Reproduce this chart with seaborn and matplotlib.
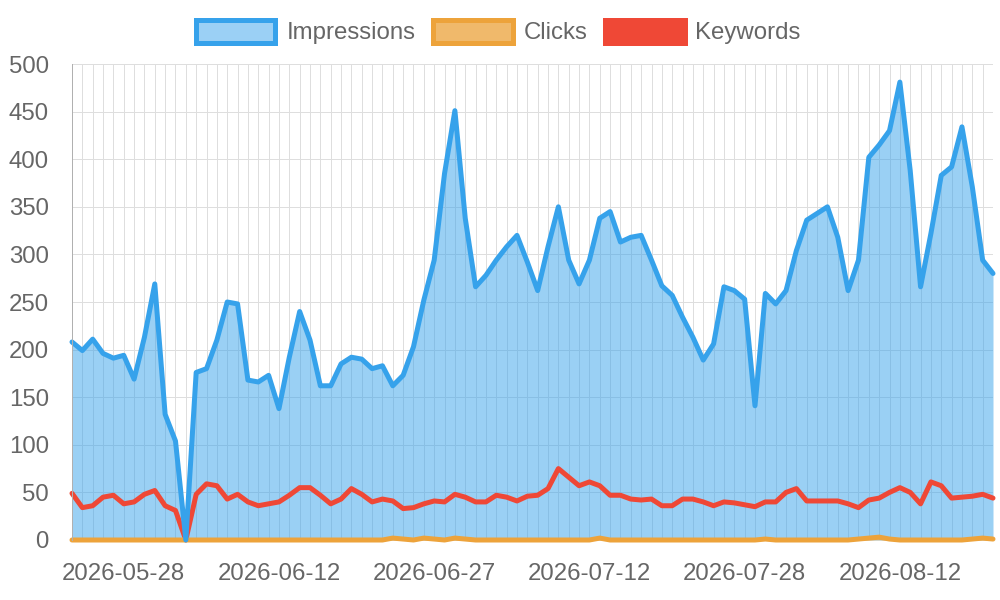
"""Daily search performance: impressions, clicks and keywords"""
import matplotlib
matplotlib.use("Agg")
import matplotlib.pyplot as plt
import pandas as pd
import seaborn as sns
from matplotlib.patches import Patch

# one day (2026-07-20) is absent from the export
dates = (
    pd.date_range("2026-05-23", "2026-08-21")
    .drop(pd.Timestamp("2026-07-20"))
    .strftime("%Y-%m-%d")
    .tolist()
)

impressions = [
    208, 199, 211, 196, 191, 194, 169, 213, 269, 132,
    104, 0, 176, 180, 210, 250, 248, 168, 166, 173,
    138, 192, 240, 210, 162, 162, 185, 192, 190, 180,
    183, 162, 173, 203, 252, 294, 385, 451, 338, 266,
    278, 294, 308, 320, 292, 262, 308, 350, 294, 269,
    294, 338, 345, 313, 318, 320, 294, 267, 257, 234,
    213, 189, 206, 266, 262, 253, 141, 259, 248, 262,
    304, 336, 343, 350, 318, 262, 294, 402, 415, 430,
    481, 388, 266, 322, 383, 392, 434, 371, 294, 280,
]
clicks = [
    0, 0, 0, 0, 0, 0, 0, 0, 0, 0,
    0, 0, 0, 0, 0, 0, 0, 0, 0, 0,
    0, 0, 0, 0, 0, 0, 0, 0, 0, 0,
    0, 2, 1, 0, 2, 1, 0, 2, 1, 0,
    0, 0, 0, 0, 0, 0, 0, 0, 0, 0,
    0, 2, 0, 0, 0, 0, 0, 0, 0, 0,
    0, 0, 0, 0, 0, 0, 0, 1, 0, 0,
    0, 0, 0, 0, 0, 0, 1, 2, 3, 1,
    0, 0, 0, 0, 0, 0, 0, 1, 2, 1,
]
keywords = [
    49, 34, 36, 45, 47, 38, 40, 48, 52, 36,
    31, 0, 48, 59, 57, 43, 48, 40, 36, 38,
    40, 47, 55, 55, 47, 38, 43, 54, 48, 40,
    43, 41, 33, 34, 38, 41, 40, 48, 45, 40,
    40, 47, 45, 41, 46, 47, 54, 75, 66, 57,
    61, 57, 47, 47, 43, 42, 43, 36, 36, 43,
    43, 40, 36, 40, 39, 37, 35, 40, 40, 50,
    54, 41, 41, 41, 41, 38, 34, 42, 44, 50,
    55, 50, 38, 61, 57, 44, 45, 46, 48, 44,
]

colors = {"Impressions": "#36A2EB", "Clicks": "#EDA33B", "Keywords": "#EF4836"}
fills = {"Impressions": "#9BD0F5", "Clicks": "#F0B96B", "Keywords": "#EF4836"}

df = pd.DataFrame({"date": dates, "Impressions": impressions,
                   "Clicks": clicks, "Keywords": keywords})
df["pos"] = range(len(df))
long = df.melt(id_vars=["date", "pos"], var_name="series", value_name="value")

sns.set_theme(style="white")
plt.rcParams["font.family"] = ["Liberation Sans", "DejaVu Sans"]

PX = 0.72  # one pixel in points at 100 dpi

fig = plt.figure(figsize=(10, 6), dpi=100)
ax = fig.add_axes([0.072, 0.1, 0.921, 0.7933])

# filled areas first, lines on top (Impressions drawn last)
ax.fill_between(df["pos"], df["Impressions"], color=colors["Impressions"],
                alpha=0.5, lw=0, zorder=1)
ax.fill_between(df["pos"], df["Clicks"], color=colors["Clicks"],
                alpha=0.5, lw=0, zorder=1)
sns.lineplot(data=long, x="pos", y="value", hue="series",
             hue_order=["Keywords", "Clicks", "Impressions"], palette=colors,
             linewidth=5 * PX, solid_joinstyle="round", solid_capstyle="round",
             clip_on=False, legend=False, ax=ax)

ax.set_xlim(0, len(df) - 1)
ax.set_ylim(0, 500)
ax.set_yticks(range(0, 501, 50))
ax.set_xticks(df["pos"])
ax.set_xticklabels([d if i % 15 == 5 else "" for i, d in enumerate(dates)])
ax.set_xlabel("")
ax.set_ylabel("")

ax.set_axisbelow(True)
ax.grid(True, color="#dedede", lw=PX)
ax.tick_params(axis="x", length=18 * PX, width=PX, color="#dedede", pad=5 * PX,
               labelsize=17.3, labelcolor="#666666")
ax.tick_params(axis="y", length=20 * PX, width=PX, color="#dedede", pad=3 * PX,
               labelsize=17.3, labelcolor="#666666")
ax.xaxis.get_major_ticks()[0].tick1line.set_color("#b0b0b0")
for side in ["top", "right", "bottom"]:
    ax.spines[side].set_visible(False)
ax.spines["left"].set_color("#b0b0b0")
ax.spines["left"].set_linewidth(PX)

handles = [Patch(facecolor=fills[k], edgecolor=colors[k], lw=5 * PX, label=k)
           for k in ["Impressions", "Clicks", "Keywords"]]
fig.legend(handles=handles, loc="center", bbox_to_anchor=(0.4985, 1 - 32 / 600),
           ncol=3, frameon=False, fontsize=17.3, labelcolor="#666666",
           handlelength=3.3, handleheight=1.1, handletextpad=0.45,
           columnspacing=0.75)

fig.savefig("out.png", dpi=100)
